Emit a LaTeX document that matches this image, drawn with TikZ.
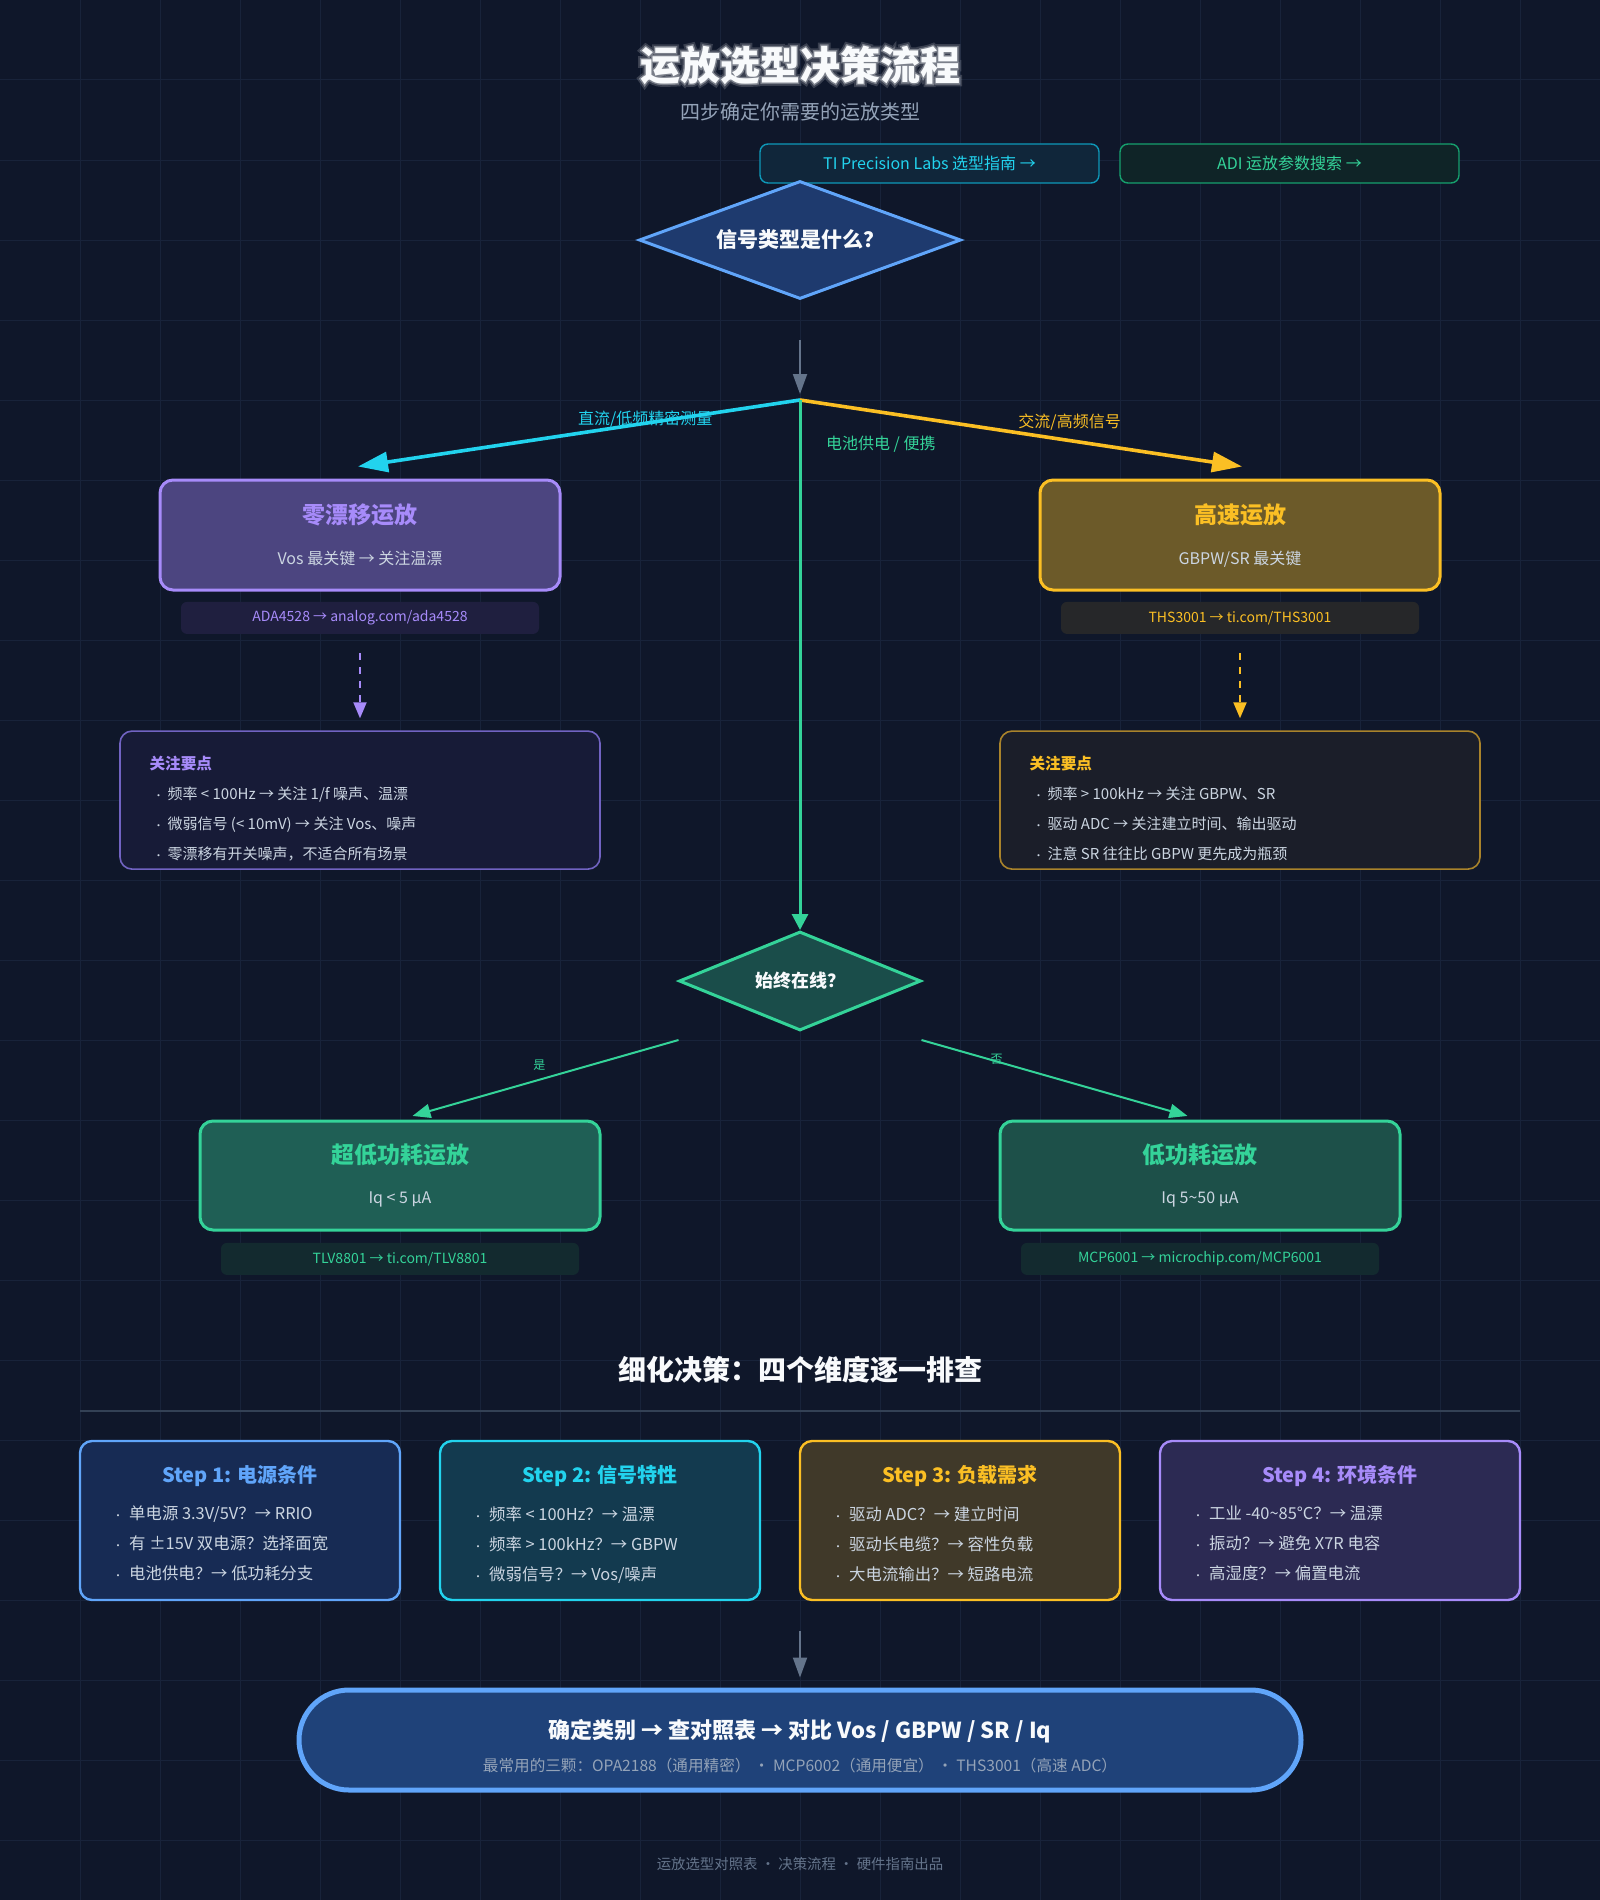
\documentclass[tikz,border=0pt]{standalone}
\usepackage{fontspec}
\setmainfont{Noto Sans CJK SC}
\newfontfamily\glowwide{Noto Sans CJK SC}[BoldFeatures={FakeBold=16}]
\newfontfamily\glownarrow{Noto Sans CJK SC}[BoldFeatures={FakeBold=7}]
\usepackage{tikz}
\usetikzlibrary{arrows.meta,shapes.geometric,positioning,calc}

\definecolor{bgnavy}{HTML}{0F172A}
\definecolor{gridcol}{HTML}{18233A}
\definecolor{txtwhite}{HTML}{F8FAFC}
\definecolor{txtlight}{HTML}{CBD5E1}
\definecolor{txtgray}{HTML}{94A3B8}
\definecolor{txtdim}{HTML}{64748B}
\definecolor{arrowgray}{HTML}{64748B}
\definecolor{rulecol}{HTML}{334155}
\definecolor{ablue}{HTML}{60A5FA}
\definecolor{acyan}{HTML}{22D3EE}
\definecolor{ayellow}{HTML}{FBBF24}
\definecolor{agreen}{HTML}{34D399}
\definecolor{apurple}{HTML}{A78BFA}
\definecolor{q1fill}{HTML}{1E3A6E}
\definecolor{q2fill}{HTML}{1A4D4A}
\definecolor{zerofill}{HTML}{4C4580}
\definecolor{zeropillfill}{HTML}{1F1F3F}
\definecolor{zerofocusfill}{HTML}{171B37}
\definecolor{zeroline}{HTML}{7163C2}
\definecolor{speedfill}{HTML}{6C5A29}
\definecolor{speedpillfill}{HTML}{262729}
\definecolor{speedfocusfill}{HTML}{1B1E29}
\definecolor{speedline}{HTML}{A9832B}
\definecolor{ulpfill}{HTML}{1F5F55}
\definecolor{lpfill}{HTML}{1D5049}
\definecolor{greenpillfill}{HTML}{132A2F}
\definecolor{sonefill}{HTML}{172B54}
\definecolor{stwofill}{HTML}{133A4F}
\definecolor{sthreefill}{HTML}{403929}
\definecolor{sfourfill}{HTML}{2C2A53}
\definecolor{finalfill}{HTML}{1F4279}
\definecolor{tifill}{HTML}{10263A}
\definecolor{tiborder}{HTML}{0E98B8}
\definecolor{adifill}{HTML}{0F2427}
\definecolor{adiborder}{HTML}{16A06E}

\newcommand{\boxhead}[2]{{\color{#1}\bfseries\fontsize{11.5}{13}\selectfont #2}}
\newcommand{\notehead}[2]{{\color{#1}\bfseries\fontsize{7.8}{15}\selectfont #2}}
\newcommand{\notebullet}{\makebox[9pt][l]{\hspace{2pt}{\fontsize{5}{5}\selectfont •}}}
\newcommand{\stepbullet}{\makebox[8pt][l]{{\fontsize{5}{5}\selectfont •}}}

\begin{document}
\begin{tikzpicture}[
  x=0.5pt, y=-0.5pt,
  decision/.style={diamond, draw, line width=1.5pt, inner sep=0pt, text=txtwhite, font=\bfseries\fontsize{10.5}{13}\selectfont},
  opbox/.style={rectangle, rounded corners=6.5pt, line width=1.5pt, minimum width=200pt, minimum height=55pt, align=center, text=txtlight, font=\fontsize{8}{10}\selectfont},
  linkpill/.style={rectangle, rounded corners=3pt, minimum width=179pt, minimum height=16pt, inner sep=0pt, font=\fontsize{7}{8}\selectfont},
  focusbox/.style={rectangle, rounded corners=6pt, line width=0.8pt, minimum width=240pt, minimum height=69pt},
  focuslist/.style={align=left, inner sep=0pt, text=txtlight, font=\fontsize{7.5}{15}\selectfont},
  stepbox/.style={rectangle, rounded corners=6pt, line width=1.2pt, minimum width=160pt, minimum height=79.5pt},
  steptitle/.style={inner sep=0pt, font=\bfseries\fontsize{10}{12}\selectfont},
  steplist/.style={align=left, inner sep=0pt, text=txtlight, font=\fontsize{8.2}{15}\selectfont},
  linkbtn/.style={rectangle, rounded corners=4pt, line width=0.7pt, minimum width=169.5pt, minimum height=19.5pt, font=\fontsize{8}{9}\selectfont},
  finalpill/.style={rectangle, rounded corners=25pt, line width=2.5pt, draw=ablue, fill=finalfill, minimum width=501pt, minimum height=50pt, align=center, text=txtgray, font=\fontsize{7.8}{9}\selectfont},
  headline/.style={text=txtwhite, font=\bfseries\fontsize{20}{24}\selectfont},
  flow/.style={-{Triangle[length=15pt,width=10pt]}, line width=1.8pt},
  dashflow/.style={-{Triangle[length=8pt,width=6.5pt]}, line width=1pt, dash pattern=on 3.5pt off 3.5pt},
  branch/.style={-{Triangle[length=9pt,width=7pt]}, line width=1pt, draw=agreen},
  grayflow/.style={-{Triangle[length=10pt,width=7pt]}, line width=1pt, draw=arrowgray},
  edgelabel/.style={font=\fontsize{8}{9}\selectfont}
]

% background and grid
\fill[bgnavy] (0,0) rectangle (1600,1900);
\useasboundingbox (0,0) rectangle (1600,1900);
\foreach \gx in {80,160,...,1520} \draw[gridcol, line width=0.5pt] (\gx,0) -- (\gx,1900);
\foreach \gy in {80,160,...,1840} \draw[gridcol, line width=0.5pt] (0,\gy) -- (1600,\gy);

% header with soft glow
\begin{scope}[transparency group, opacity=0.18]
  \node[headline, font=\glowwide\bfseries\fontsize{20}{24}\selectfont] (titleglow) at (800,65) {运放选型决策流程};
\end{scope}
\begin{scope}[transparency group, opacity=0.35]
  \node[headline, font=\glownarrow\bfseries\fontsize{20}{24}\selectfont] (titlehalo) at (800,65) {运放选型决策流程};
\end{scope}
\node[headline] (title) at (800,65) {运放选型决策流程};
\node[text=txtgray, font=\fontsize{10}{12}\selectfont] (subtitle) at (800,112) {四步确定你需要的运放类型};
\node[linkbtn, draw=tiborder, fill=tifill, text=acyan] (tilink) at (929.5,163.5) {TI Precision Labs 选型指南 →};
\node[linkbtn, draw=adiborder, fill=adifill, text=agreen] (adilink) at (1289.5,163.5) {ADI 运放参数搜索 →};

% first decision
\node[decision, fill=q1fill, draw=ablue, aspect=2.73, minimum width=161pt, minimum height=59pt] (q1) at (800,240) {信号类型是什么？};
\coordinate (q1out) at (800,340);
\coordinate (split) at (800,400);

% zero-drift branch
\node[opbox, draw=apurple, fill=zerofill] (zerobox) at (360,535) {\boxhead{apurple}{零漂移运放}\\[10.5pt]Vos 最关键 → 关注温漂};
\node[linkpill, fill=zeropillfill, text=apurple, below=5pt of zerobox] (zeropill) {ADA4528 → analog.com/ada4528};
\node[focusbox, draw=zeroline, fill=zerofocusfill, below=48pt of zeropill] (zerofocus) {};
\node[focuslist, anchor=north west] (zeronotes) at ($(zerofocus.north west)+(30,25)$) {\notehead{apurple}{关注要点}\\
  \notebullet 频率 < 100Hz → 关注 1/f 噪声、温漂\\
  \notebullet 微弱信号 (< 10mV) → 关注 Vos、噪声\\
  \notebullet 零漂移有开关噪声，不适合所有场景};

% high-speed branch
\node[opbox, draw=ayellow, fill=speedfill] (speedbox) at (1240,535) {\boxhead{ayellow}{高速运放}\\[10.5pt]GBPW/SR 最关键};
\node[linkpill, fill=speedpillfill, text=ayellow, below=5pt of speedbox] (speedpill) {THS3001 → ti.com/THS3001};
\node[focusbox, draw=speedline, fill=speedfocusfill, below=48pt of speedpill] (speedfocus) {};
\node[focuslist, anchor=north west] (speednotes) at ($(speedfocus.north west)+(30,25)$) {\notehead{ayellow}{关注要点}\\
  \notebullet 频率 > 100kHz → 关注 GBPW、SR\\
  \notebullet 驱动 ADC → 关注建立时间、输出驱动\\
  \notebullet 注意 SR 往往比 GBPW 更先成为瓶颈};

% power decision
\node[decision, fill=q2fill, draw=agreen, aspect=2.44, minimum width=121pt, minimum height=49.5pt, font=\bfseries\fontsize{9}{11}\selectfont] (q2) at (800,981) {始终在线？};
\coordinate (yesfrom) at ($(q2.west)+(1,59)$);
\coordinate (nofrom) at ($(q2.east)+(-1,59)$);

\node[opbox, draw=agreen, fill=ulpfill, minimum height=54.5pt] (ulpbox) at (400,1175.5) {\boxhead{agreen}{超低功耗运放}\\[10pt]Iq < 5 µA};
\node[linkpill, fill=greenpillfill, text=agreen, below=5.5pt of ulpbox] (ulppill) {TLV8801 → ti.com/TLV8801};
\node[opbox, draw=agreen, fill=lpfill, minimum height=54.5pt] (lpbox) at (1200,1175.5) {\boxhead{agreen}{低功耗运放}\\[10pt]Iq 5\textasciitilde50 µA};
\node[linkpill, fill=greenpillfill, text=agreen, below=5.5pt of lpbox] (lppill) {MCP6001 → microchip.com/MCP6001};

% connectors
\draw[grayflow, shorten >=3pt] (q1out) -- (split);
\draw[flow, draw=acyan] (split) -- node[edgelabel, text=acyan, pos=0.35, yshift=2pt] (dclabel) {直流/低频精密测量} ($(zerobox.north)+(-2,-12)$);
\draw[flow, draw=ayellow] (split) -- node[edgelabel, text=ayellow, pos=0.61, above=1pt] (aclabel) {交流/高频信号} ($(speedbox.north)+(2,-12)$);
\draw[line width=1.5pt, draw=agreen, -{Triangle[length=8pt,width=8pt]}] (split) -- node[edgelabel, text=agreen, pos=0.083, anchor=west, xshift=9pt] (batlabel) {电池供电 / 便携} (q2.north);
\draw[dashflow, draw=apurple, shorten <=9.5pt, shorten >=6pt] (zeropill) -- (zerofocus);
\draw[dashflow, draw=ayellow, shorten <=9.5pt, shorten >=6pt] (speedpill) -- (speedfocus);
\draw[branch, shorten >=6.5pt] (yesfrom) -- node[pos=0.5, above=1pt, text=agreen, font=\fontsize{6}{7}\selectfont] (yeslabel) {是} (ulpbox.north);
\draw[branch, shorten >=6.5pt] (nofrom) -- node[pos=0.27, yshift=1pt, text=agreen, font=\fontsize{6}{7}\selectfont] (nolabel) {否} (lpbox.north);

% refinement steps
\node[text=txtwhite, font=\bfseries\fontsize{14}{16}\selectfont] (sectitle) at (800,1370) {细化决策：四个维度逐一排查};
\draw[rulecol, line width=1pt] (80,1411) -- (1520,1411);

\node[stepbox, draw=ablue, fill=sonefill] (step1) at (240,1520.5) {};
\node[steptitle, text=ablue] (step1head) at ($(step1.north)+(0,36)$) {Step 1: 电源条件};
\node[steplist, anchor=north west] (step1list) at ($(step1.north west)+(34,66)$) {\stepbullet 单电源 3.3V/5V？→ RRIO\\
  \stepbullet 有 ±15V 双电源？选择面宽\\
  \stepbullet 电池供电？→ 低功耗分支};

\node[stepbox, draw=acyan, fill=stwofill] (step2) at (600,1520.5) {};
\node[steptitle, text=acyan] (step2head) at ($(step2.north)+(0,36)$) {Step 2: 信号特性};
\node[steplist, anchor=north west] (step2list) at ($(step2.north west)+(34,66)$) {\stepbullet 频率 < 100Hz？→ 温漂\\
  \stepbullet 频率 > 100kHz？→ GBPW\\
  \stepbullet 微弱信号？→ Vos/噪声};

\node[stepbox, draw=ayellow, fill=sthreefill] (step3) at (960,1520.5) {};
\node[steptitle, text=ayellow] (step3head) at ($(step3.north)+(0,36)$) {Step 3: 负载需求};
\node[steplist, anchor=north west] (step3list) at ($(step3.north west)+(34,66)$) {\stepbullet 驱动 ADC？→ 建立时间\\
  \stepbullet 驱动长电缆？→ 容性负载\\
  \stepbullet 大电流输出？→ 短路电流};

\node[stepbox, draw=apurple, fill=sfourfill, minimum width=180pt] (step4) at (1340,1520.5) {};
\node[steptitle, text=apurple] (step4head) at ($(step4.north)+(0,36)$) {Step 4: 环境条件};
\node[steplist, anchor=north west] (step4list) at ($(step4.north west)+(34,66)$) {\stepbullet 工业 -40\textasciitilde85°C？→ 温漂\\
  \stepbullet 振动？→ 避免 X7R 电容\\
  \stepbullet 高湿度？→ 偏置电流};

% final summary
\coordinate (stepsout) at (800,1631);
\node[finalpill] (final) at (800,1740) {\rule{0pt}{16pt}{\bfseries\fontsize{11}{13}\selectfont\color{txtwhite}确定类别 → 查对照表 → 对比 Vos / GBPW / SR / Iq}\\[7.5pt]最常用的三颗：OPA2188（通用精密） • MCP6002（通用便宜） • THS3001（高速 ADC）};
\draw[grayflow, shorten >=5pt] (stepsout) -- (final);

\node[text=txtdim, font=\fontsize{7.2}{9}\selectfont] (footer) at (800,1864) {运放选型对照表 • 决策流程 • 硬件指南出品};

\end{tikzpicture}
\end{document}
